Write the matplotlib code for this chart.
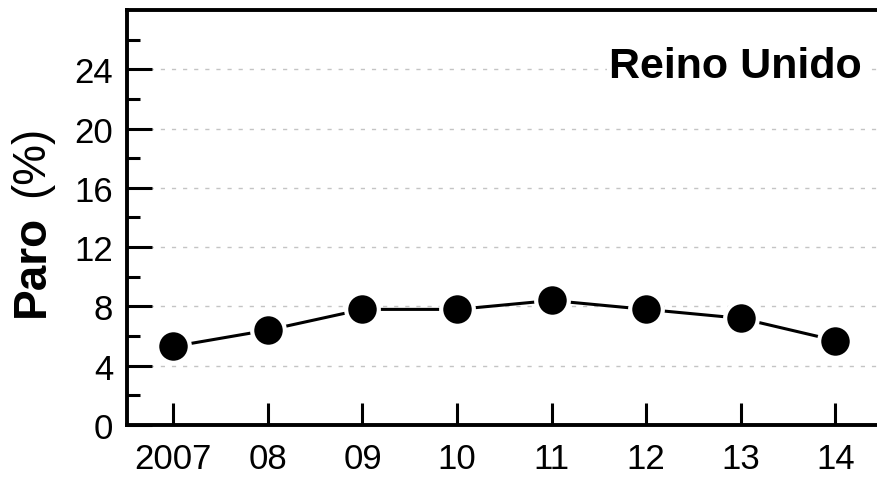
import matplotlib
matplotlib.use("Agg")
import matplotlib.pyplot as plt
from matplotlib.ticker import FixedLocator

plt.rcParams['font.family'] = ['Liberation Sans', 'DejaVu Sans']

# data
years = ['2007', '08', '09', '10', '11', '12', '13', '14']
paro = [5.3, 6.4, 7.8, 7.8, 8.4, 7.8, 7.2, 5.7]
yticks = [0, 4, 8, 12, 16, 20, 24]
yminor = [2, 6, 10, 14, 18, 22, 26]
country = 'Reino Unido'

fig = plt.figure(figsize=(8.77, 4.81), dpi=100)
ax = fig.add_axes([0.1448, 0.1143, 0.8552, 0.863])

x = list(range(len(years)))
ax.plot(x, paro, color='black', lw=2.2, zorder=3)
ax.plot(x, paro, ls='none', marker='o', ms=23.5, mfc='black', mec='white', mew=3, zorder=4)

ax.set_xlim(-0.49, 7.44)
ax.set_ylim(0, 28)
ax.set_xticks(x)
ax.set_xticklabels(years)
ax.set_yticks(yticks)
ax.yaxis.set_minor_locator(FixedLocator(yminor))

ax.grid(axis='y', which='major', color='#c4c4c4', lw=1.0, ls=(0, (3, 5)), zorder=1)

for s in ['left', 'top', 'bottom']:
    ax.spines[s].set_linewidth(2.8)
ax.spines['right'].set_visible(False)

ax.tick_params(axis='x', which='major', direction='in', length=16, width=2.2,
               labelsize=25, pad=12)
ax.tick_params(axis='y', which='major', direction='in', length=18, width=2.2,
               labelsize=25, pad=10)
ax.tick_params(axis='y', which='minor', direction='in', length=9.5, width=2.2)

# y label: bold "Paro" and regular "(%)"
fig.text(0.036, 0.341, 'Paro', rotation=90, ha='center', va='bottom',
         fontsize=33, fontweight='bold')
fig.text(0.036, 0.590, '(%)', rotation=90, ha='center', va='bottom',
         fontsize=33)

ax.text(0.98, 24.2, country, transform=ax.get_yaxis_transform(), ha='right', va='center',
        fontsize=31, fontweight='bold', zorder=5,
        bbox=dict(facecolor='white', edgecolor='none', pad=2))

fig.savefig('out.png', dpi=100)
